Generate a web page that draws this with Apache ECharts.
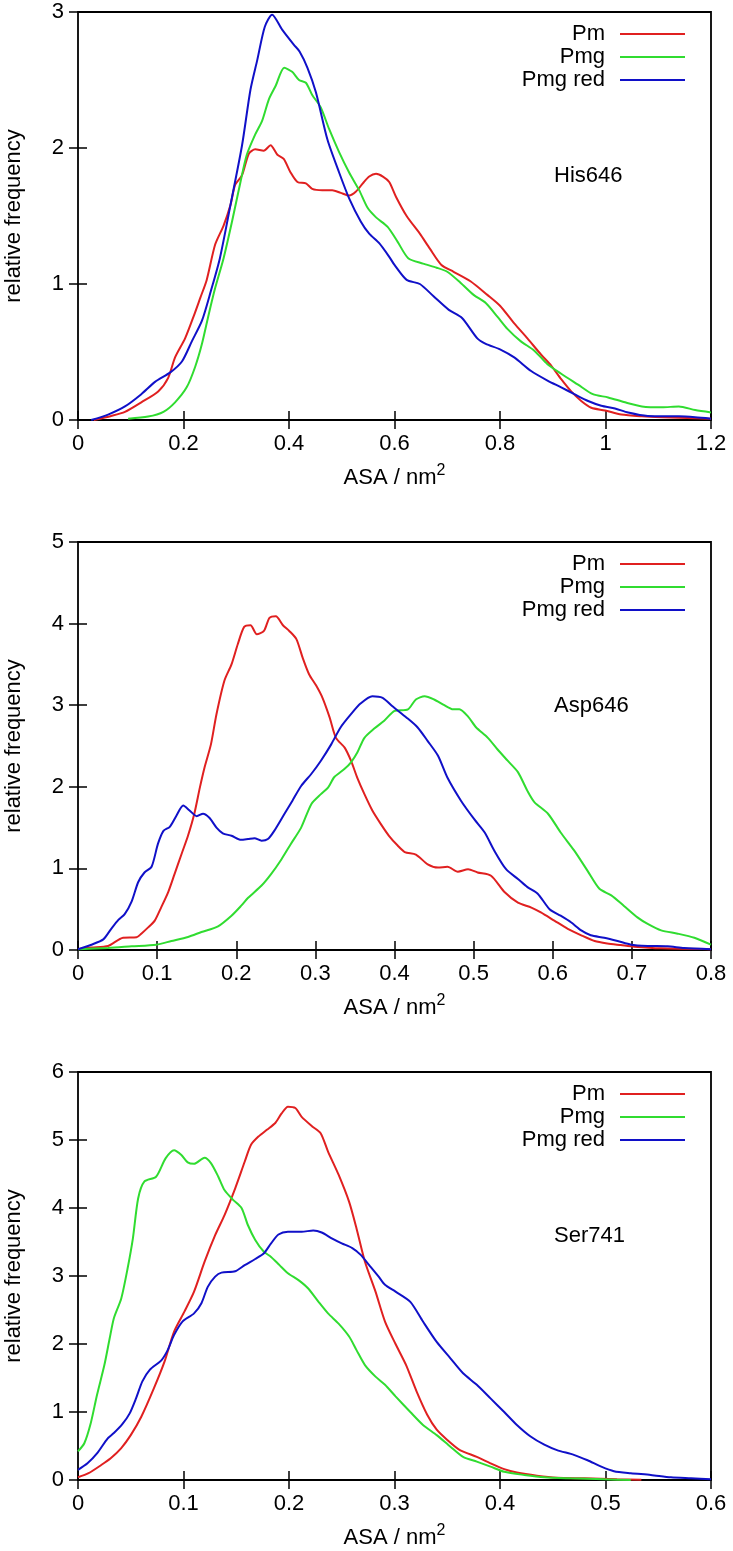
<!DOCTYPE html>
<html>
<head>
<meta charset="utf-8">
<script src="https://cdn.jsdelivr.net/npm/echarts@6/dist/echarts.min.js"></script>
<style>
  html, body { margin: 0; padding: 0; background: #fff; }
  #chart { width: 733px; height: 1551px; }
</style>
</head>
<body>
<div id="chart"></div>
<script>
// series names and colours (same in every panel)
var seriesNames = ['Pm', 'Pmg', 'Pmg red'];
var seriesColors = ['#e02020', '#30dc30', '#1010c8'];

// panel labels and axis ranges
var panelLabels = ['His646', 'Asp646', 'Ser741'];
var xMax = [1.2, 0.8, 0.6];
var xStep = [0.2, 0.1, 0.1];
var yMax = [3, 5, 6];

// His646: [ASA, relative frequency]
var hisPm = [[0.03,0],[0.063,0.03],[0.089,0.06],[0.12,0.13],[0.152,0.21],[0.171,0.31],[0.184,0.46],[0.203,0.6],[0.219,0.76],[0.232,0.9],[0.244,1.03],[0.26,1.29],[0.276,1.43],[0.289,1.58],[0.298,1.73],[0.311,1.8],[0.324,1.96],[0.336,1.99],[0.352,1.98],[0.365,2.02],[0.378,1.95],[0.39,1.92],[0.403,1.82],[0.416,1.75],[0.432,1.74],[0.444,1.7],[0.463,1.69],[0.482,1.69],[0.498,1.67],[0.514,1.65],[0.527,1.68],[0.54,1.74],[0.552,1.79],[0.565,1.81],[0.578,1.79],[0.59,1.75],[0.603,1.64],[0.623,1.5],[0.648,1.37],[0.667,1.26],[0.689,1.14],[0.712,1.09],[0.744,1.02],[0.776,0.92],[0.8,0.84],[0.827,0.71],[0.852,0.6],[0.878,0.48],[0.897,0.4],[0.916,0.3],[0.935,0.21],[0.954,0.14],[0.973,0.09],[0.999,0.07],[1.03,0.04],[1.069,0.027],[1.107,0.02],[1.17,0.012],[1.2,0.01]];
var hisPmg = [[0.095,0.01],[0.133,0.025],[0.162,0.06],[0.184,0.13],[0.206,0.24],[0.222,0.39],[0.235,0.56],[0.248,0.78],[0.26,0.97],[0.276,1.19],[0.292,1.46],[0.308,1.75],[0.32,1.95],[0.336,2.1],[0.349,2.2],[0.362,2.36],[0.375,2.46],[0.391,2.59],[0.406,2.56],[0.419,2.5],[0.432,2.48],[0.444,2.39],[0.46,2.3],[0.476,2.14],[0.495,1.97],[0.514,1.82],[0.533,1.69],[0.549,1.56],[0.565,1.49],[0.587,1.42],[0.606,1.31],[0.626,1.19],[0.654,1.15],[0.68,1.12],[0.7,1.09],[0.725,1.01],[0.75,0.92],[0.773,0.86],[0.795,0.76],[0.814,0.67],[0.839,0.58],[0.865,0.51],[0.89,0.41],[0.916,0.34],[0.948,0.26],[0.976,0.19],[1.005,0.166],[1.037,0.13],[1.069,0.1],[1.107,0.093],[1.139,0.1],[1.17,0.073],[1.2,0.056]];
var hisPmgRed = [[0.025,0],[0.057,0.04],[0.089,0.1],[0.12,0.19],[0.146,0.28],[0.175,0.35],[0.197,0.43],[0.216,0.58],[0.235,0.73],[0.252,0.95],[0.269,1.19],[0.29,1.6],[0.311,2.02],[0.327,2.43],[0.34,2.65],[0.354,2.89],[0.368,2.98],[0.387,2.87],[0.409,2.76],[0.42,2.71],[0.435,2.59],[0.451,2.41],[0.473,2.06],[0.495,1.82],[0.514,1.63],[0.536,1.46],[0.552,1.37],[0.571,1.3],[0.59,1.2],[0.6,1.14],[0.623,1.03],[0.648,1.0],[0.674,0.91],[0.703,0.81],[0.728,0.75],[0.757,0.6],[0.773,0.56],[0.8,0.52],[0.827,0.46],[0.859,0.36],[0.89,0.29],[0.916,0.24],[0.941,0.19],[0.967,0.14],[0.992,0.105],[1.018,0.085],[1.043,0.055],[1.08,0.03],[1.139,0.027],[1.17,0.02],[1.2,0.01]];

// Asp646
var aspPm = [[0,0.01],[0.017,0.03],[0.038,0.05],[0.057,0.15],[0.074,0.155],[0.08,0.2],[0.089,0.28],[0.097,0.36],[0.105,0.52],[0.114,0.71],[0.122,0.93],[0.131,1.18],[0.139,1.4],[0.147,1.67],[0.154,1.99],[0.16,2.24],[0.168,2.52],[0.175,2.89],[0.185,3.3],[0.194,3.5],[0.202,3.75],[0.21,3.96],[0.218,3.98],[0.226,3.87],[0.235,3.91],[0.242,4.07],[0.25,4.09],[0.259,3.98],[0.267,3.91],[0.276,3.81],[0.284,3.58],[0.292,3.38],[0.301,3.24],[0.309,3.09],[0.318,2.85],[0.326,2.6],[0.337,2.48],[0.345,2.32],[0.353,2.11],[0.362,1.91],[0.372,1.71],[0.383,1.54],[0.393,1.4],[0.404,1.28],[0.413,1.2],[0.427,1.17],[0.442,1.05],[0.455,1.01],[0.467,1.02],[0.48,0.96],[0.493,0.99],[0.505,0.95],[0.522,0.91],[0.539,0.71],[0.556,0.58],[0.573,0.52],[0.585,0.46],[0.602,0.36],[0.619,0.26],[0.636,0.18],[0.653,0.11],[0.669,0.08],[0.686,0.06],[0.703,0.04],[0.737,0.02],[0.8,0.01]];
var aspPmg = [[0,0.01],[0.038,0.025],[0.068,0.045],[0.099,0.065],[0.118,0.11],[0.139,0.16],[0.156,0.22],[0.177,0.29],[0.194,0.42],[0.206,0.54],[0.215,0.64],[0.232,0.79],[0.244,0.93],[0.257,1.11],[0.269,1.3],[0.282,1.5],[0.295,1.79],[0.307,1.91],[0.316,1.99],[0.324,2.12],[0.337,2.22],[0.345,2.3],[0.353,2.42],[0.362,2.6],[0.374,2.71],[0.387,2.81],[0.4,2.93],[0.417,2.95],[0.427,3.07],[0.438,3.11],[0.45,3.07],[0.463,3.0],[0.474,2.95],[0.482,2.95],[0.493,2.86],[0.503,2.73],[0.518,2.6],[0.53,2.46],[0.543,2.32],[0.556,2.18],[0.568,1.95],[0.577,1.81],[0.594,1.67],[0.61,1.44],[0.627,1.22],[0.644,0.97],[0.659,0.75],[0.674,0.67],[0.69,0.54],[0.707,0.4],[0.72,0.32],[0.737,0.24],[0.758,0.2],[0.779,0.15],[0.8,0.065]];
var aspPmgRed = [[0,0.01],[0.017,0.065],[0.032,0.13],[0.042,0.26],[0.051,0.37],[0.059,0.44],[0.068,0.6],[0.076,0.83],[0.084,0.95],[0.093,1.02],[0.101,1.3],[0.108,1.46],[0.116,1.51],[0.124,1.64],[0.133,1.77],[0.141,1.71],[0.15,1.64],[0.158,1.67],[0.166,1.62],[0.175,1.5],[0.183,1.43],[0.194,1.4],[0.206,1.35],[0.215,1.36],[0.223,1.37],[0.232,1.34],[0.24,1.36],[0.248,1.46],[0.261,1.67],[0.271,1.83],[0.282,2.01],[0.295,2.16],[0.307,2.32],[0.32,2.52],[0.332,2.73],[0.345,2.89],[0.357,3.02],[0.372,3.11],[0.385,3.09],[0.397,2.99],[0.415,2.85],[0.429,2.73],[0.442,2.56],[0.455,2.38],[0.467,2.11],[0.484,1.83],[0.501,1.6],[0.514,1.44],[0.526,1.22],[0.541,0.99],[0.556,0.87],[0.568,0.77],[0.581,0.69],[0.596,0.5],[0.61,0.42],[0.623,0.34],[0.636,0.24],[0.648,0.18],[0.665,0.15],[0.682,0.11],[0.699,0.065],[0.72,0.05],[0.745,0.045],[0.766,0.025],[0.8,0.01]];

// Ser741
var serPm = [[0,0.04],[0.01,0.1],[0.022,0.22],[0.031,0.32],[0.041,0.47],[0.05,0.66],[0.06,0.93],[0.072,1.35],[0.082,1.74],[0.091,2.18],[0.101,2.48],[0.11,2.77],[0.12,3.21],[0.13,3.6],[0.139,3.9],[0.149,4.29],[0.158,4.68],[0.164,4.93],[0.171,5.05],[0.179,5.15],[0.187,5.25],[0.193,5.39],[0.199,5.49],[0.206,5.47],[0.212,5.34],[0.222,5.2],[0.23,5.1],[0.237,4.83],[0.247,4.49],[0.257,4.09],[0.264,3.7],[0.272,3.21],[0.282,2.77],[0.291,2.33],[0.301,2.0],[0.311,1.69],[0.321,1.3],[0.331,0.96],[0.34,0.74],[0.35,0.59],[0.362,0.44],[0.378,0.34],[0.391,0.245],[0.404,0.16],[0.416,0.11],[0.435,0.064],[0.454,0.034],[0.48,0.025],[0.511,0.01],[0.534,0.005]];
var serPmg = [[0,0.42],[0.006,0.54],[0.012,0.83],[0.018,1.25],[0.025,1.69],[0.03,2.08],[0.034,2.38],[0.041,2.67],[0.047,3.11],[0.052,3.55],[0.057,4.14],[0.063,4.39],[0.074,4.46],[0.083,4.73],[0.091,4.85],[0.098,4.78],[0.104,4.67],[0.11,4.65],[0.12,4.74],[0.126,4.66],[0.133,4.46],[0.139,4.26],[0.147,4.12],[0.155,4.0],[0.161,3.75],[0.168,3.53],[0.176,3.36],[0.183,3.28],[0.191,3.16],[0.199,3.04],[0.209,2.94],[0.218,2.82],[0.228,2.62],[0.237,2.45],[0.247,2.3],[0.257,2.11],[0.264,1.91],[0.272,1.69],[0.282,1.52],[0.291,1.4],[0.301,1.23],[0.315,1.0],[0.327,0.81],[0.34,0.66],[0.353,0.49],[0.365,0.34],[0.378,0.27],[0.391,0.196],[0.404,0.12],[0.423,0.074],[0.442,0.04],[0.467,0.025],[0.499,0.01],[0.524,0]];
var serPmgRed = [[0,0.15],[0.009,0.245],[0.018,0.39],[0.028,0.61],[0.034,0.69],[0.042,0.82],[0.049,0.98],[0.055,1.2],[0.061,1.45],[0.068,1.62],[0.079,1.76],[0.085,1.91],[0.091,2.13],[0.099,2.33],[0.11,2.45],[0.117,2.6],[0.123,2.84],[0.13,2.99],[0.136,3.05],[0.149,3.07],[0.158,3.16],[0.168,3.25],[0.176,3.33],[0.183,3.48],[0.19,3.61],[0.199,3.65],[0.212,3.65],[0.223,3.67],[0.231,3.64],[0.241,3.55],[0.25,3.48],[0.26,3.41],[0.268,3.31],[0.276,3.16],[0.285,2.99],[0.291,2.87],[0.301,2.77],[0.315,2.62],[0.327,2.33],[0.34,2.03],[0.353,1.79],[0.365,1.57],[0.378,1.4],[0.391,1.2],[0.404,1.0],[0.416,0.81],[0.429,0.64],[0.442,0.52],[0.454,0.44],[0.47,0.37],[0.483,0.29],[0.496,0.196],[0.508,0.13],[0.524,0.1],[0.543,0.074],[0.562,0.04],[0.581,0.025],[0.6,0.01]];

var panelData = [
  [hisPm, hisPmg, hisPmgRed],
  [aspPm, aspPmg, aspPmgRed],
  [serPm, serPmg, serPmgRed]
];

var chart = echarts.init(document.getElementById('chart'));

var gridTops = [12, 542, 1072];
var font = 'Liberation Sans, Arial, Helvetica, sans-serif';
var tick = { show: true, inside: true, length: 9, lineStyle: { color: '#000', width: 1.5 } };

var grids = [], xAxes = [], yAxes = [], legends = [], titles = [], series = [];

panelLabels.forEach(function (label, i) {
  grids.push({
    left: 78, right: 22, top: gridTops[i], height: 408,
    outerBoundsMode: 'none', containLabel: false,
    show: true, borderColor: '#000', borderWidth: 1.8
  });

  // bottom axis with labels, top axis only for the mirrored ticks
  xAxes.push({
    gridIndex: i, type: 'value', position: 'bottom',
    min: 0, max: xMax[i], interval: xStep[i],
    axisLine: { show: false }, axisTick: tick, splitLine: { show: false },
    axisLabel: { margin: 13, fontSize: 22, color: '#000', fontFamily: font },
    name: 'ASA / nm{sup|2}', nameLocation: 'middle', nameGap: 43,
    nameTextStyle: {
      fontSize: 22, lineHeight: 30, color: '#000', fontFamily: font,
      rich: { sup: { fontSize: 16, lineHeight: 16, color: '#000', fontFamily: font, verticalAlign: 'top' } }
    }
  });
  xAxes.push({
    gridIndex: i, type: 'value', position: 'top',
    min: 0, max: xMax[i], interval: xStep[i],
    axisLine: { show: false }, axisTick: tick, splitLine: { show: false },
    axisLabel: { show: false }
  });

  yAxes.push({
    gridIndex: i, type: 'value', position: 'left',
    min: 0, max: yMax[i], interval: 1,
    axisLine: { show: false }, axisTick: tick, splitLine: { show: false },
    axisLabel: { margin: 14, fontSize: 22, color: '#000', fontFamily: font },
    name: 'relative frequency', nameLocation: 'middle', nameGap: 53,
    nameTextStyle: { fontSize: 22, color: '#000', fontFamily: font }
  });
  yAxes.push({
    gridIndex: i, type: 'value', position: 'right',
    min: 0, max: yMax[i], interval: 1,
    axisLine: { show: false }, axisTick: tick, splitLine: { show: false },
    axisLabel: { show: false }
  });

  legends.push({
    orient: 'vertical', align: 'right', right: 48, top: gridTops[i] + 11,
    itemWidth: 65, itemHeight: 2, itemGap: 1, icon: 'rect', padding: 0,
    selectedMode: false, data: seriesNames,
    textStyle: { fontSize: 22, lineHeight: 22, color: '#000', fontFamily: font, padding: [0, 10, 0, 0] }
  });

  titles.push({
    text: label, left: 554, top: gridTops[i] + 153, padding: 0,
    textStyle: { fontSize: 22, fontWeight: 'normal', color: '#000', fontFamily: font }
  });

  panelData[i].forEach(function (d, j) {
    series.push({
      type: 'line', name: seriesNames[j], data: d,
      xAxisIndex: 2 * i, yAxisIndex: 2 * i,
      showSymbol: false, smooth: 0.25,
      lineStyle: { width: 2, color: seriesColors[j] },
      itemStyle: { color: seriesColors[j] }
    });
  });
});

chart.setOption({
  animation: false,
  textStyle: { fontFamily: font },
  title: titles,
  legend: legends,
  grid: grids,
  xAxis: xAxes,
  yAxis: yAxes,
  series: series
});
</script>
</body>
</html>
